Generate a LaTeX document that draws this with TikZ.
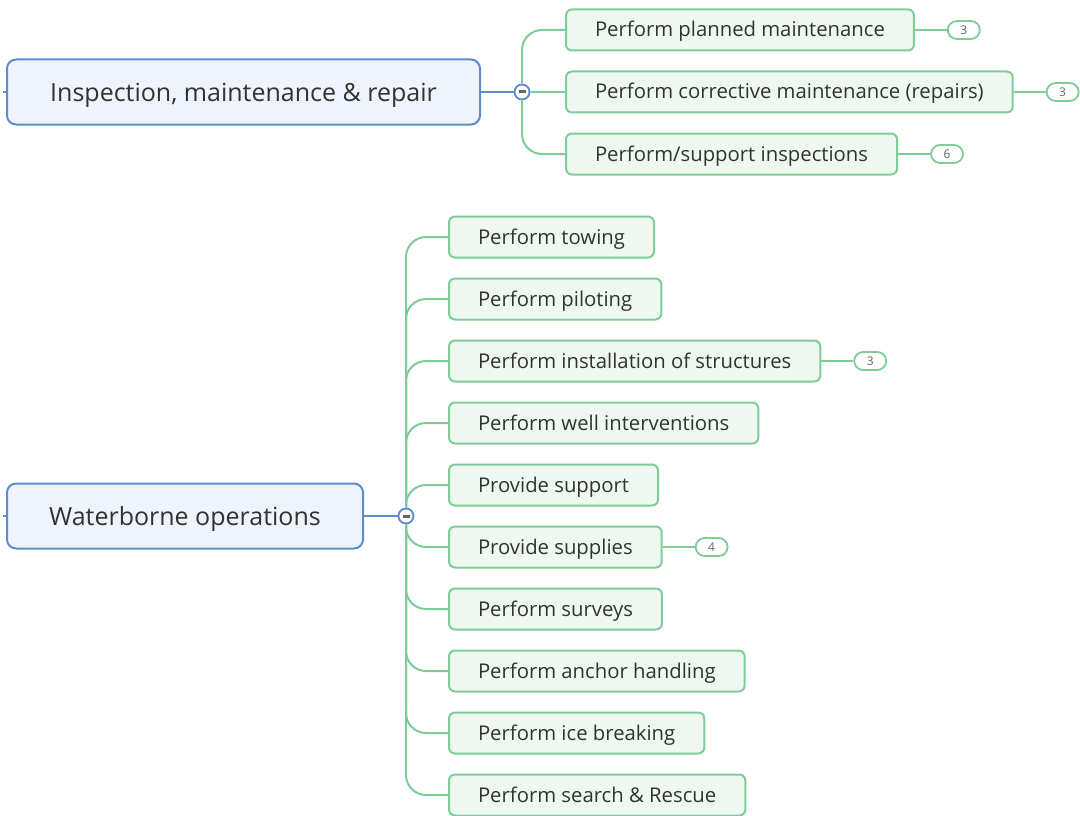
\documentclass[tikz,border=0pt]{standalone}
\usepackage{fontspec}
\setmainfont{Open Sans}
\usepackage{tikz}
\usetikzlibrary{positioning}
\definecolor{mainline}{RGB}{92,140,206}
\definecolor{mainfill}{RGB}{239,244,252}
\definecolor{leafline}{RGB}{128,204,152}
\definecolor{leaffill}{RGB}{238,248,241}
\definecolor{textgray}{RGB}{50,50,50}

\begin{document}
\begin{tikzpicture}[
      x = 1pt,y = -1pt,
      mainbox/.style = {rectangle,rounded corners = 9pt,draw = mainline,fill = mainfill,line width = 2pt,minimum width = #1,minimum height = 65pt,text height = 19pt,text depth = 0pt,text = textgray,font = \fontsize{25}{28}\selectfont},
      leaf/.style = {rectangle,rounded corners = 6pt,draw = leafline,fill = leaffill,line width = 2pt,minimum height = 41pt,inner xsep = 29pt,text height = 16pt,text depth = 2pt,text = textgray,font = \fontsize{20.3}{24}\selectfont},
      count/.style = {rectangle,rounded corners = 9pt,draw = leafline,fill = white,line width = 1.8pt,minimum width = 32pt,minimum height = 18pt,inner sep = 0pt,text = gray!80!black,font = \fontsize{12}{13}\selectfont},
      toggle/.style = {circle,draw = mainline,fill = white,line width = 1.8pt,minimum size = 15pt,inner sep = 0pt,
        path picture = {\draw[gray!80!black,line width = 3pt] ([xshift = -3.5pt]path picture bounding box.center) -- ([xshift = 3.5pt]path picture bounding box.center);}},
      branch/.style = {draw = leafline,line width = 2pt,rounded corners = 20pt},
      link/.style = {draw = mainline,line width = 2pt}
      ]
      \useasboundingbox (0,0) rectangle (1080,816);

      \node (imr)[mainbox = 473pt] at (243.5,92) {Inspection, maintenance \& repair};
      \node (imrtoggle)[toggle] at (522,92) {};
      \coordinate (imrstub) at (3,92);
      \node (planned)[leaf,anchor = west] at (565,30) {Perform planned maintenance};
      \node (corrective)[leaf,below right = 19pt and 0pt of planned.south west] {Perform corrective maintenance (repairs)};
      \node (inspections)[leaf,below right = 19pt and 0pt of corrective.south west] {Perform/support inspections};
      \node (plannedcount)[count,right = 32pt of planned] {3};
      \node (correctivecount)[count,right = 32pt of corrective] {3};
      \node (inspectionscount)[count,right = 32pt of inspections] {6};

      \draw[link] (imrstub) -- (imr.west);
      \draw[link] (imr.east) -- (imrtoggle.west);
      \draw[branch] (imrtoggle.north) |- (planned.west);
      \draw[branch] (imrtoggle.east) -- (corrective.west);
      \draw[branch] (imrtoggle.south) |- (inspections.west);
      \draw[branch] (planned.east) -- (plannedcount.west);
      \draw[branch] (corrective.east) -- (correctivecount.west);
      \draw[branch] (inspections.east) -- (inspectionscount.west);

      \node (water)[mainbox = 356pt] at (185,516) {Waterborne operations};
      \node (watertoggle)[toggle] at (406,516) {};
      \coordinate (waterstub) at (3,516);
      \node (towing)[leaf,anchor = west] at (448,237) {Perform towing};
      \node (piloting)[leaf,below right = 19pt and 0pt of towing.south west] {Perform piloting};
      \node (installation)[leaf,below right = 19pt and 0pt of piloting.south west] {Perform installation of structures};
      \node (wells)[leaf,below right = 19pt and 0pt of installation.south west] {Perform well interventions};
      \node (support)[leaf,below right = 19pt and 0pt of wells.south west] {Provide support};
      \node (supplies)[leaf,below right = 19pt and 0pt of support.south west] {Provide supplies};
      \node (surveys)[leaf,below right = 19pt and 0pt of supplies.south west] {Perform surveys};
      \node (anchor)[leaf,below right = 19pt and 0pt of surveys.south west] {Perform anchor handling};
      \node (ice)[leaf,below right = 19pt and 0pt of anchor.south west] {Perform ice breaking};
      \node (rescue)[leaf,below right = 19pt and 0pt of ice.south west] {Perform search \& Rescue};
      \node (installationcount)[count,right = 32pt of installation] {3};
      \node (suppliescount)[count,right = 32pt of supplies] {4};

      \draw[link] (waterstub) -- (water.west);
      \draw[link] (water.east) -- (watertoggle.west);
      \foreach \leafname in {towing,piloting,installation,wells,support}
        \draw[branch] (watertoggle.north) |- (\leafname.west);
      \foreach \leafname in {supplies,surveys,anchor,ice,rescue}
        \draw[branch] (watertoggle.south) |- (\leafname.west);
      \draw[branch] (installation.east) -- (installationcount.west);
      \draw[branch] (supplies.east) -- (suppliescount.west);
    \end{tikzpicture}
\end{document}
